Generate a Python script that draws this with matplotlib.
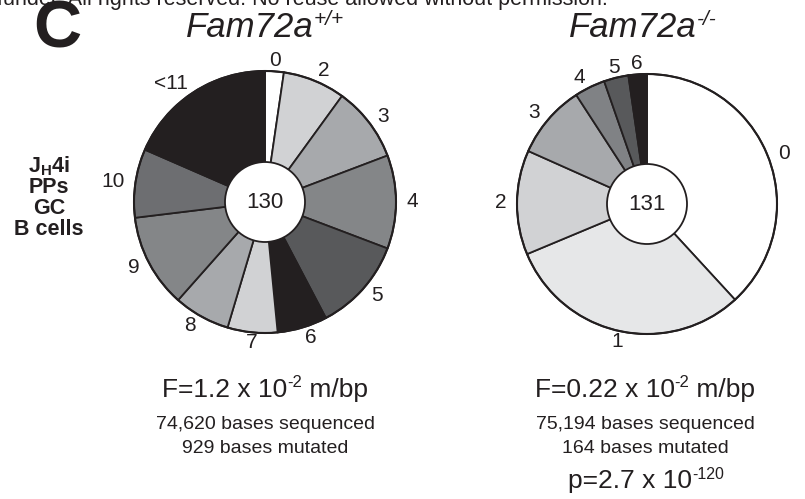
import matplotlib
matplotlib.use("Agg")
import matplotlib.pyplot as plt
from matplotlib.patches import Circle

plt.rcParams['font.family'] = ['Liberation Sans', 'DejaVu Sans']
plt.rcParams['mathtext.fontset'] = 'custom'
plt.rcParams['mathtext.rm'] = 'Liberation Sans'
plt.rcParams['mathtext.bf'] = 'Liberation Sans:bold'

# sequences by number of mutations (130 wt, 131 ko)
wt_labels = ['0', '2', '3', '4', '5', '6', '7', '8', '9', '10', '<11']
wt_counts = [3, 10, 12, 15, 15, 8, 8, 9, 15, 11, 24]
wt_colors = ['#ffffff', '#d1d2d4', '#a7a9ac', '#848688', '#58595b', '#231f20',
             '#d1d2d4', '#a7a9ac', '#848688', '#6d6e71', '#231f20']

ko_labels = ['0', '1', '2', '3', '4', '5', '6']
ko_counts = [50, 40, 17, 12, 5, 4, 3]
ko_colors = ['#ffffff', '#e6e7e8', '#d1d2d4', '#a7a9ac', '#808285', '#58595b', '#231f20']

W, H = 805, 499
INK = '#231f20'

fig = plt.figure(figsize=(W / 100, H / 100), dpi=100)
ax = fig.add_axes([0, 0, 1, 1])


def Y(y):
    # pixel row from top -> data y
    return H - y


def draw_pie(counts, labels, colors, cx, cy, r, total):
    ld = 1.08
    wedges, texts = ax.pie(counts, labels=labels, colors=colors, startangle=90,
                           counterclock=False, radius=r, center=(cx, Y(cy)),
                           labeldistance=ld,
                           wedgeprops=dict(edgecolor=INK, linewidth=1.3),
                           textprops=dict(fontsize=15, color=INK))
    # pie picks left/right alignment against x=0, redo it against the centre
    for t in texts:
        dx = (t.get_position()[0] - cx) / (r * ld)
        if abs(dx) < 0.25:
            t.set_ha('center')
        else:
            t.set_ha('left' if dx > 0 else 'right')
        t.set_zorder(8)
    ax.add_patch(Circle((cx, Y(cy)), r, fill=False, edgecolor=INK, linewidth=1.5, zorder=5))
    ax.add_patch(Circle((cx, Y(cy)), 40, facecolor='white', edgecolor=INK, linewidth=1.3, zorder=6))
    ax.text(cx, Y(cy), str(total), fontsize=16, color=INK, ha='center', va='center', zorder=7)


def sup_line(x, y, parts, **kw):
    # parts: (text, fontsize, raise_px); laid out left-to-right, centred at x, baseline y
    r = fig.canvas.get_renderer()
    objs = []
    for txt, fs, dy in parts:
        t = ax.text(0, Y(y - dy), txt, fontsize=fs, color=INK, ha='left', va='baseline', **kw)
        objs.append(t)
    widths = [t.get_window_extent(r).width for t in objs]
    left = x - sum(widths) / 2
    for t, w in zip(objs, widths):
        t.set_x(left)
        left += w


draw_pie(wt_counts, wt_labels, wt_colors, 265, 202, 131, sum(wt_counts))
draw_pie(ko_counts, ko_labels, ko_colors, 647, 204, 130, sum(ko_counts))

ax.set_xlim(0, W)
ax.set_ylim(0, H)
ax.set_aspect('equal')
ax.axis('off')

# header remnant
ax.text(-3, Y(5), 'funder. All rights reserved. No reuse allowed without permission.',
        fontsize=15.5, color=INK, ha='left', va='baseline')

ax.text(57, Y(47), 'C', fontsize=48, fontweight='bold', color=INK, ha='center', va='baseline')

sup_line(265, 37, [('Fam72a', 25, 0), ('+/+', 15, 12)], fontstyle='italic')
sup_line(643, 37, [('Fam72a', 25, 0), ('-/-', 15, 12)], fontstyle='italic')

for i, s in enumerate([r'J$_{\mathbf{H}}$4i', 'PPs', 'GC', 'B cells']):
    ax.text(49, Y(166 + i * 21), s, fontsize=15.5, fontweight='bold', color=INK,
            ha='center', va='center')

sup_line(265, 397, [('F=1.2 x 10', 19, 0), ('-2', 12, 10), (' m/bp', 19, 0)])
sup_line(645, 397, [('F=0.22 x 10', 19, 0), ('-2', 12, 10), (' m/bp', 19, 0)])

ax.text(265, Y(429), '74,620 bases sequenced', fontsize=14, color=INK, ha='center', va='baseline')
ax.text(265, Y(453), '929 bases mutated', fontsize=14, color=INK, ha='center', va='baseline')
ax.text(645, Y(429), '75,194 bases sequenced', fontsize=14, color=INK, ha='center', va='baseline')
ax.text(645, Y(453), '164 bases mutated', fontsize=14, color=INK, ha='center', va='baseline')

sup_line(646, 488, [('p=2.7 x 10', 19, 0), ('-120', 11.5, 9)])

fig.savefig('out.png', dpi=100)
